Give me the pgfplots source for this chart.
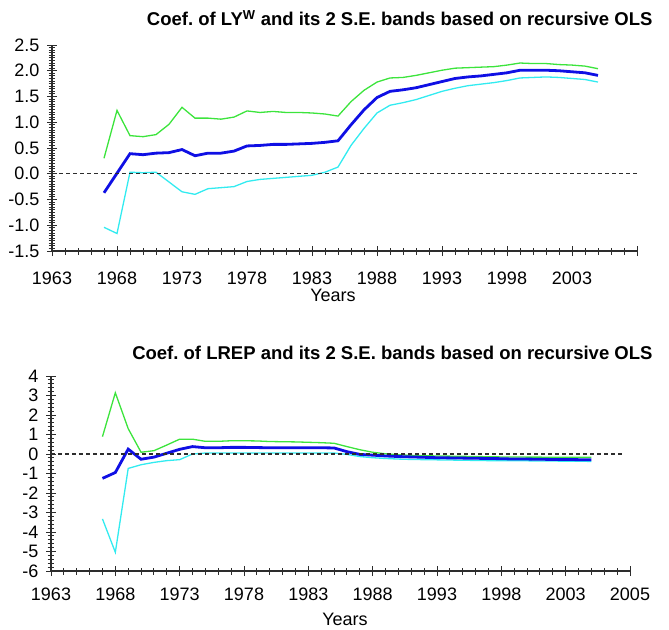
\documentclass[border=0pt]{standalone}
\usepackage{fontspec}
\setmainfont{Liberation Sans}
\usepackage{pgfplots}
\usepackage{pgfplotstable}
\pgfplotsset{compat=1.18}
\frenchspacing
\definecolor{cblue}{RGB}{15,15,228}
\definecolor{cgreen}{RGB}{60,228,60}
\definecolor{ccyan}{RGB}{50,235,240}
\definecolor{axgray}{RGB}{45,45,45}

\pgfplotstableread{
year g b c
1967 0.30 -0.37 -1.04
1968 1.23 0.01 -1.16
1969 0.74 0.39 0.03
1970 0.72 0.37 0.02
1971 0.76 0.40 0.03
1972 0.96 0.41 -0.16
1973 1.29 0.47 -0.35
1974 1.08 0.35 -0.40
1975 1.08 0.40 -0.29
1976 1.06 0.40 -0.27
1977 1.10 0.44 -0.25
1978 1.22 0.54 -0.15
1979 1.19 0.55 -0.11
1980 1.21 0.57 -0.09
1981 1.19 0.57 -0.07
1982 1.19 0.58 -0.05
1983 1.18 0.59 -0.03
1984 1.16 0.61 0.03
1985 1.12 0.64 0.13
1986 1.40 0.95 0.55
1987 1.62 1.24 0.88
1988 1.78 1.48 1.18
1989 1.86 1.60 1.33
1990 1.87 1.63 1.38
1991 1.91 1.67 1.44
1992 1.96 1.73 1.52
1993 2.01 1.79 1.60
1994 2.05 1.85 1.66
1995 2.06 1.88 1.71
1996 2.07 1.90 1.74
1997 2.08 1.93 1.77
1998 2.11 1.96 1.81
1999 2.15 2.01 1.86
2000 2.14 2.01 1.87
2001 2.14 2.01 1.88
2002 2.12 2.00 1.87
2003 2.11 1.98 1.85
2004 2.09 1.96 1.83
2005 2.04 1.91 1.78
}\toptable

\pgfplotstableread{
year g b c
1967 0.89 -1.25 -3.33
1968 3.14 -0.95 -5.04
1969 1.30 0.25 -0.74
1970 0.09 -0.27 -0.55
1971 0.17 -0.16 -0.43
1972 0.46 0.04 -0.34
1973 0.76 0.24 -0.29
1974 0.76 0.38 0.00
1975 0.65 0.32 0.05
1976 0.65 0.32 0.05
1977 0.68 0.34 0.05
1978 0.68 0.34 0.05
1979 0.67 0.33 0.05
1980 0.64 0.32 0.05
1981 0.63 0.32 0.05
1982 0.62 0.32 0.05
1983 0.60 0.32 0.05
1984 0.58 0.32 0.05
1985 0.55 0.31 0.05
1986 0.38 0.12 -0.02
1987 0.22 -0.02 -0.13
1988 0.09 -0.06 -0.19
1989 0.01 -0.10 -0.23
1990 -0.04 -0.13 -0.26
1991 -0.07 -0.15 -0.28
1992 -0.09 -0.17 -0.29
1993 -0.10 -0.19 -0.30
1994 -0.11 -0.20 -0.31
1995 -0.12 -0.21 -0.32
1996 -0.13 -0.22 -0.33
1997 -0.14 -0.23 -0.34
1998 -0.15 -0.24 -0.34
1999 -0.15 -0.26 -0.35
2000 -0.16 -0.26 -0.35
2001 -0.16 -0.27 -0.36
2002 -0.17 -0.28 -0.36
2003 -0.17 -0.28 -0.37
2004 -0.17 -0.29 -0.37
2005 -0.17 -0.29 -0.38
}\bottable

\pgfplotsset{
  mystyle/.style={
    scale only axis,
    axis lines*=left,
    axis line style={axgray, line width=1.1pt},
    xmin=1963, xmax=2008,
    xtick={1963,1968,...,2008},
    minor x tick num=4,
    tick align=center,
    major tick length=10pt,
    minor tick length=7pt,
    tick style={axgray, line width=0.9pt},
    tick label style={font=\fontsize{18}{20}\selectfont},
    /pgf/number format/assume math mode=true,
    yticklabel style={xshift=-4pt},
  },
  gline/.style={cgreen, line width=1.3pt},
  bline/.style={cblue, line width=2.8pt},
  cline/.style={ccyan, line width=1.3pt},
  zline/.style={axgray, line width=1.1pt, dash pattern=on 4pt off 3pt},
}

\begin{document}
\begin{tikzpicture}
\path[use as bounding box] (0pt,0pt) rectangle (669pt,-629pt);

\node[anchor=east, font=\bfseries\fontsize{18.5}{20}\selectfont] at (656pt,-18pt)
  {Coef.\ of LY\textsuperscript{W} and its 2 S.E.\ bands based on recursive OLS};

\begin{axis}[mystyle,
  at={(52pt,-251pt)}, anchor=south west,
  width=585pt, height=206pt,
  ymin=-1.5, ymax=2.5,
  ytick={-1.5,-1,-0.5,0,0.5,1,1.5,2,2.5},
  yticklabels={-1.5,-1.0,-0.5,0.0,0.5,1.0,1.5,2.0,2.5},
  minor y tick num=9,
  xticklabels={1963,1968,1973,1978,1983,1988,1993,1998,2003,{}},
  xticklabel style={yshift=-12pt},
]
\addplot[gline] table[x=year, y=g] {\toptable};
\addplot[cline] table[x=year, y=c] {\toptable};
\addplot[bline] table[x=year, y=b] {\toptable};
\addplot[zline] coordinates {(1963,0) (2008,0)};
\end{axis}
\node[font=\fontsize{18}{20}\selectfont] at (333pt,-295pt) {Years};

\node[anchor=east, font=\bfseries\fontsize{18.5}{20}\selectfont] at (656pt,-353pt)
  {Coef.\ of LREP and its 2 S.E.\ bands based on recursive OLS};

\begin{axis}[mystyle,
  at={(51pt,-571pt)}, anchor=south west,
  width=579pt, height=195pt,
  ymin=-6, ymax=4,
  ytick={-6,-5,...,4},
  yticklabels={-6,-5,-4,-3,-2,-1,0,1,2,3,4},
  minor y tick num=4,
  xticklabels={1963,1968,1973,1978,1983,1988,1993,1998,2003,\raisebox{4pt}{2005}},
  xticklabel style={yshift=-8pt},
]
\addplot[gline] table[x=year, y=g] {\bottable};
\addplot[cline] table[x=year, y=c] {\bottable};
\addplot[bline] table[x=year, y=b] {\bottable};
\addplot[zline] coordinates {(1963,0) (2007.5,0)};
\end{axis}
\node[font=\fontsize{18}{20}\selectfont] at (345pt,-619pt) {Years};
\end{tikzpicture}
\end{document}
